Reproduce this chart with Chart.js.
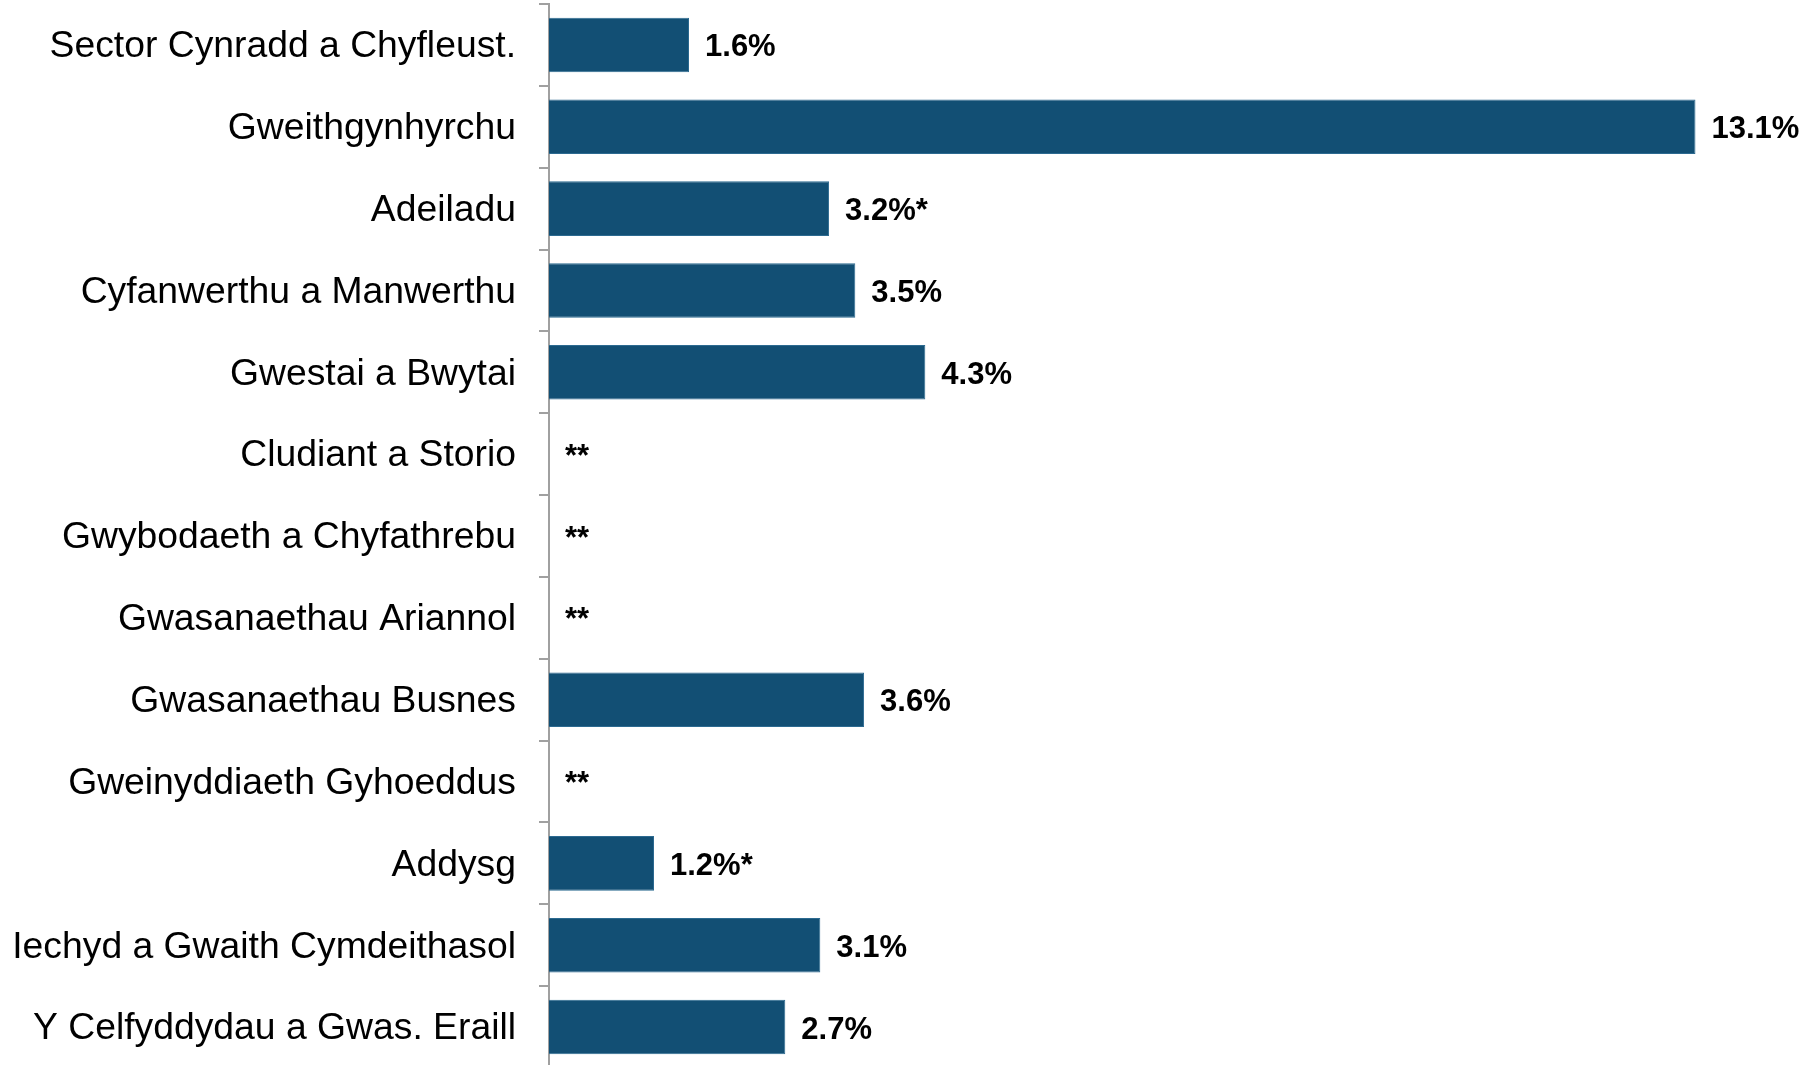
<!DOCTYPE html>
<html>
<head>
<meta charset="utf-8">
<script src="https://cdn.jsdelivr.net/npm/chart.js@4.4.0/dist/chart.umd.min.js"></script>
<style>
  html, body { margin: 0; padding: 0; background: #ffffff; overflow: hidden; }
  #wrap { width: 1819px; height: 1068px; }
</style>
</head>
<body>
<div id="wrap"><canvas id="myChart" width="1819" height="1068"></canvas></div>
<script>
// DATA
const categories = [
  'Sector Cynradd a Chyfleust.',
  'Gweithgynhyrchu',
  'Adeiladu',
  'Cyfanwerthu a Manwerthu',
  'Gwestai a Bwytai',
  'Cludiant a Storio',
  'Gwybodaeth a Chyfathrebu',
  'Gwasanaethau Ariannol',
  'Gwasanaethau Busnes',
  'Gweinyddiaeth Gyhoeddus',
  'Addysg',
  'Iechyd a Gwaith Cymdeithasol',
  'Y Celfyddydau a Gwas. Eraill'
];
// null = suppressed (**)
const values = [1.6, 13.1, 3.2, 3.5, 4.3, null, null, null, 3.6, null, 1.2, 3.1, 2.7];
// '*' marks a less reliable estimate
const notes = ['', '', '*', '', '', '', '', '', '', '', '*', '', ''];

const FONT = '"Liberation Sans", Arial, Helvetica, sans-serif';
Chart.defaults.font.family = FONT;

// labels at the end of the bars, ** where there is no value
const barLabels = {
  id: 'barLabels',
  afterDatasetsDraw(chart) {
    const ctx = chart.ctx;
    const meta = chart.getDatasetMeta(0);
    ctx.save();
    ctx.font = 'bold 31px ' + FONT;
    ctx.fillStyle = '#000000';
    ctx.textAlign = 'left';
    ctx.textBaseline = 'middle';
    meta.data.forEach((bar, i) => {
      const y = chart.scales.y.getPixelForValue(i);
      if (values[i] === null) {
        ctx.fillText('**', chart.chartArea.left + 16, y + 3);
      } else {
        ctx.fillText(values[i].toFixed(1) + '%' + notes[i], bar.x + 16, y + 3);
      }
    });
    ctx.restore();
  }
};

const ctx = document.getElementById('myChart');
new Chart(ctx, {
  type: 'bar',
  data: {
    labels: categories,
    datasets: [{
      data: values,
      backgroundColor: '#124f74',
      borderColor: '#2c6a90',
      borderWidth: 1,
      categoryPercentage: 1,
      barPercentage: 0.667
    }]
  },
  options: {
    indexAxis: 'y',
    responsive: false,
    animation: false,
    devicePixelRatio: 1,
    layout: { padding: { top: 4, right: 1, bottom: 0, left: 0 } },
    plugins: {
      legend: { display: false },
      tooltip: { enabled: false }
    },
    scales: {
      x: {
        display: false,
        min: 0,
        max: 14.5
      },
      y: {
        afterFit(scale) {
          scale.width = 549;
          scale.paddingTop = 0;
          scale.paddingBottom = 0;
        },
        grid: {
          offset: true,
          drawOnChartArea: false,
          drawTicks: true,
          tickLength: 10,
          color: '#a0a0a0',
          lineWidth: 2
        },
        border: { display: true, color: '#a0a0a0', width: 2 },
        ticks: {
          color: '#000000',
          padding: 23,
          labelOffset: 2,
          font: { size: 37.3 }
        }
      }
    }
  },
  plugins: [barLabels]
});
</script>
</body>
</html>
